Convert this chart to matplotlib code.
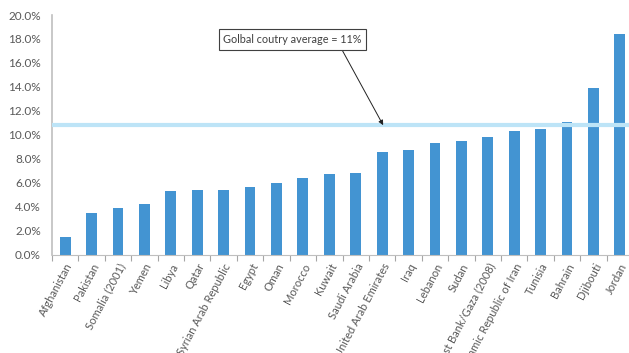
import matplotlib.pyplot as plt
import numpy as np
from matplotlib.ticker import FuncFormatter, FixedLocator

plt.rcParams['font.family'] = ['Lato', 'DejaVu Sans']

countries = ["Afghanistan", "Pakistan", "Somalia (2001)", "Yemen", "Libya", "Qatar",
             "Syrian Arab Republic", "Egypt", "Oman", "Morocco", "Kuwait", "Saudi Arabia",
             "United Arab Emirates", "Iraq", "Lebanon", "Sudan", "West Bank/Gaza (2008)",
             "Islamic Republic of Iran", "Tunisia", "Bahrain", "Djibouti", "Jordan"]
shares = [1.5, 3.5, 3.9, 4.2, 5.3, 5.4, 5.4, 5.65, 6.0, 6.4, 6.7, 6.8,
          8.6, 8.7, 9.3, 9.5, 9.8, 10.3, 10.5, 11.1, 13.9, 18.4]
global_avg = 10.8

fig = plt.figure(figsize=(6.29, 3.53), dpi=100)
# axes runs slightly past the right edge, the last bar sits at the border
ax = fig.add_axes([52 / 629, 98.5 / 353, 581 / 629, 239.5 / 353])

x = np.arange(len(countries))
ax.bar(x, shares, width=0.41, color="#4394d2", zorder=2)
ax.axhline(global_avg, color="#bde4f7", lw=3, zorder=3)

ax.annotate("Golbal coutry average = 11%", xy=(12.04, global_avg), xytext=(8.6, 17.95),
            ha="center", va="center", fontsize=7.8, color="#404040",
            bbox=dict(boxstyle="square,pad=0.42", fc="white", ec="#404040", lw=0.8),
            arrowprops=dict(arrowstyle="-|>", color="#222222", lw=0.7,
                            mutation_scale=7, relpos=(0.84, 0.0), shrinkA=0, shrinkB=0),
            zorder=4)

ax.set_xlim(-0.5, len(countries) - 0.5)
ax.set_ylim(0, 20)
ax.set_yticks(np.arange(0, 20.1, 2))
ax.yaxis.set_major_formatter(FuncFormatter(lambda v, p: f"{v:.1f}%"))
ax.tick_params(axis="y", length=0, pad=8, labelsize=8.5, labelcolor="#595959")

ax.set_xticks(x)
ax.set_xticklabels(countries, rotation=62, ha="right", rotation_mode="anchor",
                   fontsize=8, color="#595959")
ax.tick_params(axis="x", which="major", length=0, pad=5)
ax.xaxis.set_minor_locator(FixedLocator(np.arange(-0.5, len(countries), 1)))
ax.tick_params(axis="x", which="minor", length=4, color="#a6a6a6", width=0.8)

for side in ["top", "right"]:
    ax.spines[side].set_visible(False)
ax.spines["left"].set_color("#bfbfbf")
ax.spines["left"].set_linewidth(1.2)
ax.spines["bottom"].set_color("#bfbfbf")
ax.spines["bottom"].set_linewidth(0.8)

fig.savefig("out.png", dpi=100)
